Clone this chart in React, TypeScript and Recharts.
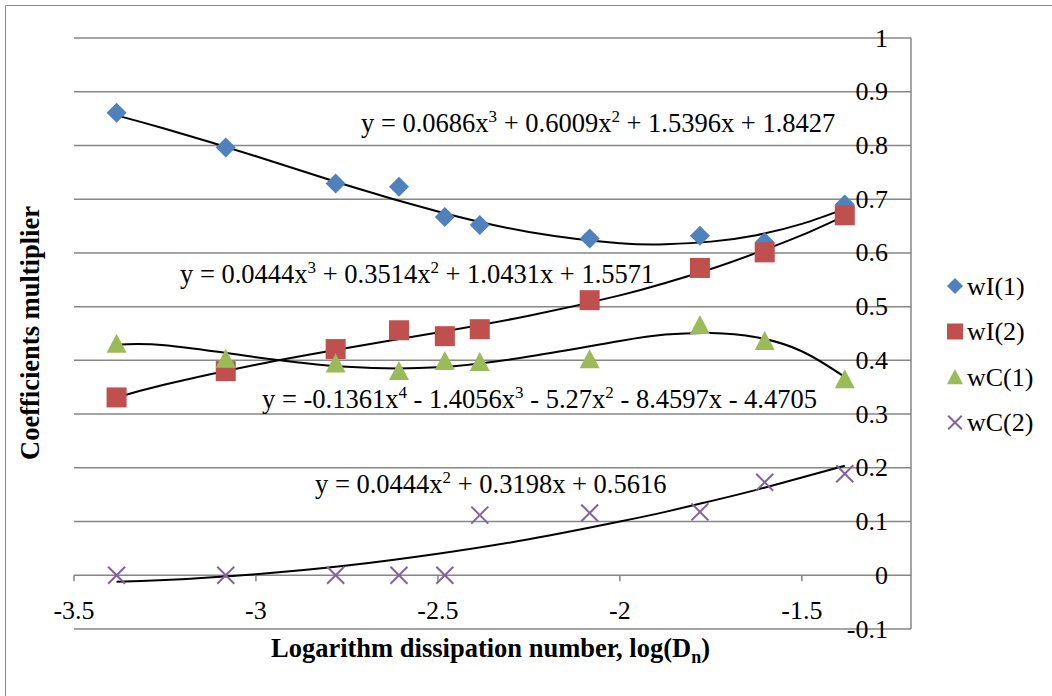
import React from 'react';
import { ComposedChart, Scatter, Line, XAxis, YAxis, CartesianGrid, ReferenceLine } from 'recharts';

// ---- data ----
const xValues = [-3.383, -3.083, -2.781, -2.607, -2.481, -2.385, -2.083, -1.78, -1.602, -1.382];
const wI1 = [0.861, 0.796, 0.729, 0.723, 0.667, 0.652, 0.627, 0.632, 0.62, 0.69];
const wI2 = [0.331, 0.38, 0.421, 0.456, 0.445, 0.458, 0.512, 0.572, 0.601, 0.67];
const wC1 = [0.431, 0.403, 0.394, 0.38, 0.399, 0.397, 0.402, 0.466, 0.436, 0.365];
const wC2 = [0, 0, 0, 0, 0, 0.112, 0.116, 0.118, 0.173, 0.189];

// trendline values
const trendX = [-3.383, -3.25, -3.0, -2.75, -2.5, -2.25, -2.0, -1.875, -1.75, -1.625, -1.5, -1.382];
const trendI1 = [0.856, 0.831, 0.78, 0.726, 0.677, 0.639, 0.618, 0.616, 0.621, 0.633, 0.654, 0.682];
const trendI2 = [0.331, 0.355, 0.392, 0.423, 0.452, 0.483, 0.521, 0.544, 0.57, 0.6, 0.633, 0.669];
const trendC1 = [0.429, 0.428, 0.406, 0.388, 0.387, 0.407, 0.436, 0.448, 0.451, 0.443, 0.417, 0.369];
const trendC2 = [-0.012, -0.009, 0.002, 0.018, 0.04, 0.067, 0.1, 0.118, 0.138, 0.159, 0.182, 0.204];

const xTicks = [-3.5, -3, -2.5, -2, -1.5];
const yTicks = [-0.1, 0, 0.1, 0.2, 0.3, 0.4, 0.5, 0.6, 0.7, 0.8, 0.9, 1];
const seriesNames = ['wI(1)', 'wI(2)', 'wC(1)', 'wC(2)'];
const seriesColors = ['#4F81BD', '#C0504D', '#9BBB59', '#8064A2'];

// ---- layout ----
const W = 1052;
const H = 696;
const MARGIN = { top: 38, right: 141, bottom: 37, left: 74 };
const X_AXIS_H = 30;
const X_MIN = -3.5;
const X_MAX = -1.2;
const Y_MIN = -0.1;
const Y_MAX = 1;
const PLOT_H = H - MARGIN.top - MARGIN.bottom - X_AXIS_H;
const ZERO_Y = MARGIN.top + (PLOT_H * (Y_MAX - 0)) / (Y_MAX - Y_MIN);
const Y_LABEL_RIGHT = 888;
const FONT = "'Liberation Serif', 'Times New Roman', serif";
const GRID = '#868686';

const toPts = (xs: number[], ys: number[]) => xs.map((x, i) => ({ x, y: ys[i] }));
const pts = [toPts(xValues, wI1), toPts(xValues, wI2), toPts(xValues, wC1), toPts(xValues, wC2)];
const trends = [toPts(trendX, trendI1), toPts(trendX, trendI2), toPts(trendX, trendC1), toPts(trendX, trendC2)];

const markerPath = (kind: number, cx: number, cy: number, r: number, color: string) => {
  if (kind === 0) {
    return <polygon points={`${cx},${cy - r} ${cx + r},${cy} ${cx},${cy + r} ${cx - r},${cy}`} fill={color} />;
  }
  if (kind === 1) {
    return <rect x={cx - r} y={cy - r} width={2 * r} height={2 * r} fill={color} />;
  }
  if (kind === 2) {
    return <polygon points={`${cx},${cy - r} ${cx + r},${cy + r * 0.9} ${cx - r},${cy + r * 0.9}`} fill={color} />;
  }
  const d = r * 0.85;
  return (
    <g stroke={color} strokeWidth={2}>
      <line x1={cx - d} y1={cy - d} x2={cx + d} y2={cy + d} />
      <line x1={cx - d} y1={cy + d} x2={cx + d} y2={cy - d} />
    </g>
  );
};

const makeShape = (kind: number) => (props: any) => {
  const { cx, cy } = props;
  if (cx == null || cy == null) return <g />;
  return markerPath(kind, cx, cy, 10, seriesColors[kind]);
};

const XTick = (props: any) => {
  const { x, payload } = props;
  return (
    <g>
      <line x1={x} x2={x} y1={ZERO_Y} y2={ZERO_Y + 6} stroke={GRID} strokeWidth={1.5} />
      <text x={x} y={ZERO_Y + 35} textAnchor="middle" dominantBaseline="central" fontSize={26} fontFamily={FONT} fill="#000">
        {String(payload.value)}
      </text>
    </g>
  );
};

const YTick = (props: any) => {
  const { y, payload } = props;
  return (
    <text x={Y_LABEL_RIGHT} y={y} textAnchor="end" dominantBaseline="central" fontSize={26} fontFamily={FONT} fill="#000">
      {String(payload.value)}
    </text>
  );
};

const SUP = { fontSize: 17 };

export default function App() {
  return (
    <div style={{ position: 'absolute', left: 0, top: 0, width: W, height: H, background: '#fff', overflow: 'hidden' }}>
      <div style={{ position: 'absolute', left: 0, top: 0 }}>
        <ComposedChart width={W} height={H} margin={MARGIN}>
          <CartesianGrid vertical={false} stroke={GRID} strokeWidth={1.5} />
          <XAxis
            type="number"
            dataKey="x"
            domain={[X_MIN, X_MAX]}
            ticks={xTicks}
            allowDataOverflow
            axisLine={false}
            tickLine={false}
            height={X_AXIS_H}
            tick={<XTick />}
          />
          <YAxis
            type="number"
            dataKey="y"
            orientation="right"
            mirror
            width={60}
            domain={[Y_MIN, Y_MAX]}
            ticks={yTicks}
            interval={0}
            allowDataOverflow
            axisLine={false}
            tickLine={false}
            tick={<YTick />}
          />
          <ReferenceLine x={X_MAX} stroke={GRID} strokeWidth={1.5} />
          {pts.map((d, i) => (
            <Scatter key={seriesNames[i]} name={seriesNames[i]} data={d} fill={seriesColors[i]} shape={makeShape(i)} isAnimationActive={false} />
          ))}
          {trends.map((d, i) => (
            <Line
              key={'t' + i}
              data={d}
              dataKey="y"
              type="natural"
              stroke="#000"
              strokeWidth={2}
              dot={false}
              activeDot={false}
              legendType="none"
              isAnimationActive={false}
            />
          ))}
        </ComposedChart>
      </div>
      <svg width={W} height={H} style={{ position: 'absolute', left: 0, top: 0, pointerEvents: 'none' }} fontFamily={FONT}>
        <line x1={5.5} y1={5.5} x2={W} y2={5.5} stroke="#8a8a8a" strokeWidth={1} />
        <line x1={5.5} y1={5.5} x2={5.5} y2={H} stroke="#8a8a8a" strokeWidth={1} />

        <text x={361} y={132} fontSize={26.5} fill="#000">
          y = 0.0686x<tspan style={SUP} dy={-10}>3</tspan>
          <tspan dy={10}> + 0.6009x</tspan>
          <tspan style={SUP} dy={-10}>2</tspan>
          <tspan dy={10}> + 1.5396x + 1.8427</tspan>
        </text>
        <text x={180} y={283} fontSize={26.5} fill="#000">
          y = 0.0444x<tspan style={SUP} dy={-10}>3</tspan>
          <tspan dy={10}> + 0.3514x</tspan>
          <tspan style={SUP} dy={-10}>2</tspan>
          <tspan dy={10}> + 1.0431x + 1.5571</tspan>
        </text>
        <text x={262} y={408} fontSize={26.5} fill="#000">
          y = -0.1361x<tspan style={SUP} dy={-10}>4</tspan>
          <tspan dy={10}> - 1.4056x</tspan>
          <tspan style={SUP} dy={-10}>3</tspan>
          <tspan dy={10}> - 5.27x</tspan>
          <tspan style={SUP} dy={-10}>2</tspan>
          <tspan dy={10}> - 8.4597x - 4.4705</tspan>
        </text>
        <text x={315} y={493} fontSize={26.5} fill="#000">
          y = 0.0444x<tspan style={SUP} dy={-10}>2</tspan>
          <tspan dy={10}> + 0.3198x + 0.5616</tspan>
        </text>

        <text x={271} y={657} fontSize={26.5} fontWeight="bold" fill="#000">
          Logarithm dissipation number, log(D<tspan style={{ fontSize: 18 }} dy={6}>n</tspan>
          <tspan dy={-6}>)</tspan>
        </text>
        <text transform="translate(39,333) rotate(-90)" textAnchor="middle" fontSize={26.5} fontWeight="bold" fill="#000">
          Coefficients multiplier
        </text>

        {seriesNames.map((n, i) => {
          const cy = 286 + i * 45.5;
          return (
            <g key={n}>
              {markerPath(i, 955, cy, 8, seriesColors[i])}
              <text x={967} y={cy} dominantBaseline="central" fontSize={26} fill="#000">
                {n}
              </text>
            </g>
          );
        })}
      </svg>
    </div>
  );
}
